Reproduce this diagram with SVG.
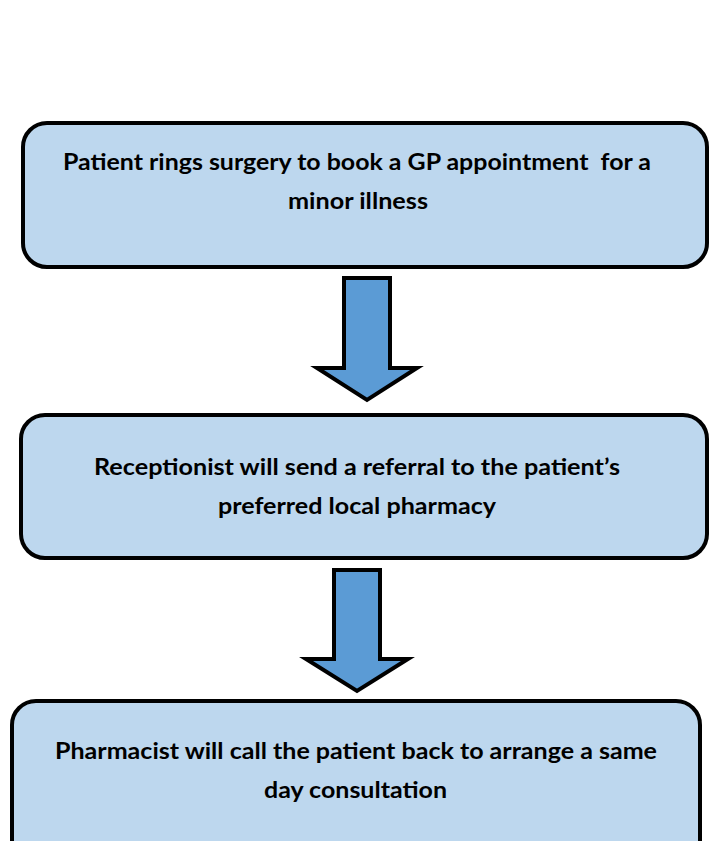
<svg xmlns="http://www.w3.org/2000/svg" width="709" height="841" viewBox="0 0 709 841">
<style>
.box{fill:#BDD7EE;stroke:#000;stroke-width:4}
.arr{fill:#5B9BD5;stroke:#000;stroke-width:4;stroke-linejoin:miter}
.t{font-family:"Lato","Liberation Sans",sans-serif;font-weight:bold;font-size:22px;fill:#000;text-anchor:middle;white-space:pre}
</style>
<rect width="709" height="841" fill="#fff"/>
<g id="connectors">
<path class="arr" d="M344,278 H390 V368 H417 L367,400 L317,368 H344 Z"/>
<path class="arr" d="M334,570 H380 V659 H408 L357,691 L306,659 H334 Z"/>
</g>
<g id="node1">
<rect class="box" x="23" y="123" width="684" height="144" rx="24"/>
<text class="t" x="357" y="170" textLength="588" lengthAdjust="spacingAndGlyphs" xml:space="preserve">Patient rings surgery to book a GP appointment  for a</text>
<text class="t" x="358" y="209" textLength="140" lengthAdjust="spacingAndGlyphs">minor illness</text>
</g>
<g id="node2">
<rect class="box" x="21" y="415" width="686" height="143" rx="24"/>
<text class="t" x="357" y="475" textLength="526" lengthAdjust="spacingAndGlyphs">Receptionist will send a referral to the patient’s</text>
<text class="t" x="357" y="514" textLength="278" lengthAdjust="spacingAndGlyphs">preferred local pharmacy</text>
</g>
<g id="node3">
<rect class="box" x="12" y="701" width="688" height="170" rx="24"/>
<text class="t" x="356" y="759" textLength="602" lengthAdjust="spacingAndGlyphs">Pharmacist will call the patient back to arrange a same</text>
<text class="t" x="355.5" y="798" textLength="183" lengthAdjust="spacingAndGlyphs">day consultation</text>
</g>
</svg>
